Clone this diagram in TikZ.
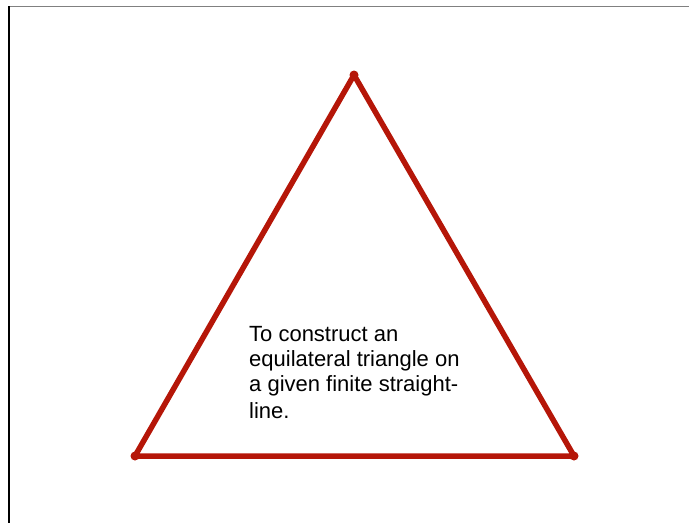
\documentclass[tikz,border=0pt]{standalone}
\usepackage{fontspec}
\setmainfont{Liberation Sans}
\usepackage{tikz}

\definecolor{proofred}{RGB}{181,22,8}

\begin{document}
\begin{tikzpicture}[x=1pt, y=-1pt]
		\useasboundingbox (0, 0) rectangle (689, 523);
		% frame
		\draw [gray, line width=1.6pt] (9, 6.5) -- (689, 6.5);
		\draw [black, line width=1.4pt] (9, 6) -- (9, 523);
		% corners of the triangle
		\coordinate (top) at (354, 75);
		\coordinate (left) at (135, 456);
		\coordinate (right) at (574, 456);
		\draw [proofred, line width=5.5pt, line cap=round, line join=round] (left) -- (top) -- (right) -- cycle;
		\fill [proofred] (top) circle (4.5pt);
		\fill [proofred] (left) circle (4.5pt);
		\fill [proofred] (right) circle (4.5pt);
		\node (prop) at (249, 418) [anchor=base west, align=left, inner sep=0pt, font=\fontsize{22}{25}\selectfont] {To construct an\\ equilateral triangle on\\ a given finite straight-\\[2pt] line.};
	\end{tikzpicture}
\end{document}
